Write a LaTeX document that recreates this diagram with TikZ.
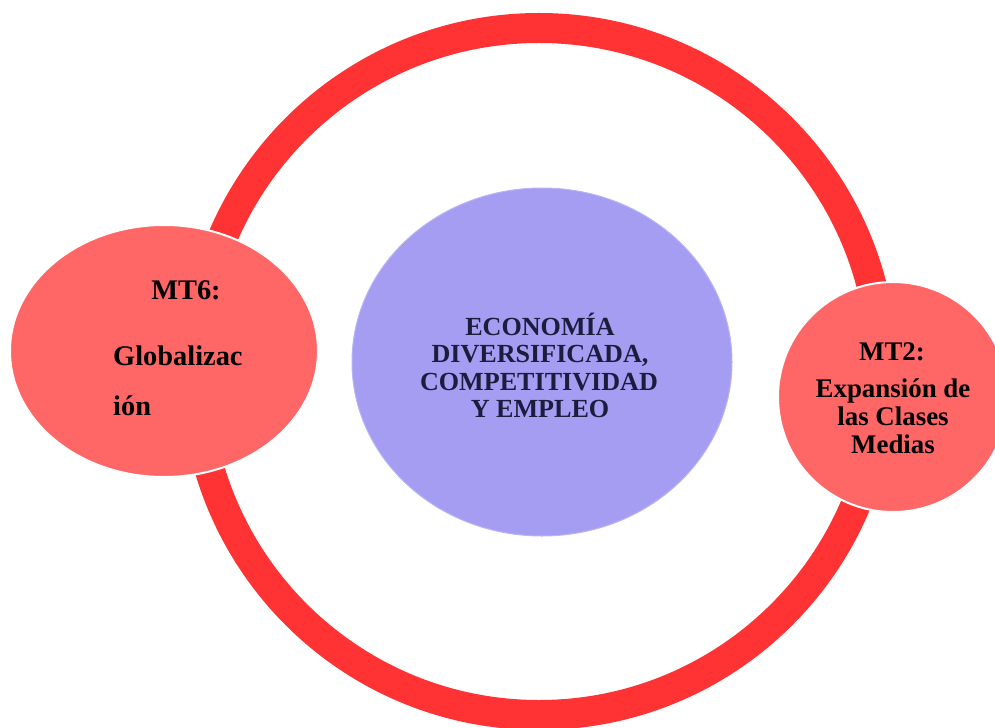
\documentclass[tikz,border=0pt]{standalone}
\usepackage{fontspec}
\setmainfont{Liberation Serif}
\usetikzlibrary{shapes.geometric}
\definecolor{ringred}{HTML}{FF3333}
\definecolor{salmon}{HTML}{FF6666}
\definecolor{lavender}{HTML}{A49DF2}
\definecolor{lavedge}{HTML}{B9B4F6}
\definecolor{navytext}{HTML}{1C1C3E}
\tikzset{
  ringstyle/.style={draw=ringred, line width=30bp},
  bubble/.style={ellipse, fill=salmon, draw=white, line width=2bp, inner sep=0pt},
  core/.style={ellipse, fill=lavender, draw=lavedge, line width=1bp, inner sep=0pt},
  coretext/.style={anchor=base, inner sep=0pt, text=navytext, font=\bfseries\fontsize{26.2}{28}\selectfont},
  sidetext/.style={anchor=base, inner sep=0pt, text=black, font=\bfseries\fontsize{27}{28}\selectfont},
  lefttext/.style={inner sep=0pt, text=black, font=\bfseries\fontsize{28.5}{30}\selectfont}
}
\begin{document}
\begin{tikzpicture}[x=1bp, y=-1bp]
\useasboundingbox (0,0) rectangle (995,728);
% big ring
\coordinate (ringc) at (539,371.5);
\draw[ringstyle] (ringc) circle[radius=343.5bp];
% centre
\node[core, minimum width=380bp, minimum height=348bp] (centre) at (542,362) {};
\node[coretext] (c1) at (540,335) {ECONOMÍA};
\node[coretext] (c2) at (540,362) {DIVERSIFICADA,};
\node[coretext] (c3) at (539,390) {COMPETITIVIDAD};
\node[coretext] (c4) at (540,417) {Y EMPLEO};
% left bubble
\node[bubble, minimum width=308bp, minimum height=252bp] (mt6) at (164,351) {};
\node[lefttext, anchor=base] (mt6a) at (186,299) {MT6:};
\node[lefttext, anchor=base west] (mt6b) at (113,365) {Globalizac};
\node[lefttext, anchor=base west] (mt6c) at (113,415) {ión};
% right bubble
\node[bubble, minimum width=230bp, minimum height=230bp] (mt2) at (893,397) {};
\node[sidetext] (mt2a) at (892,360) {MT2:};
\node[sidetext] (mt2b) at (893,397) {Expansión de};
\node[sidetext] (mt2c) at (893,425) {las Clases};
\node[sidetext] (mt2d) at (893,453) {Medias};
\end{tikzpicture}
\end{document}
